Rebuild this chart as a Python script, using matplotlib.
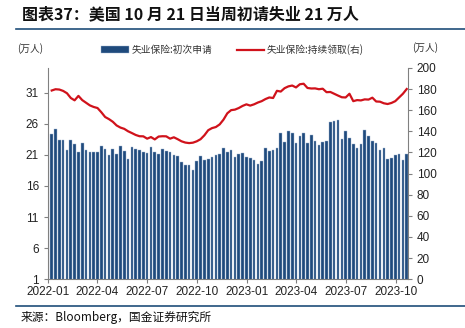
import numpy as np
import pandas as pd
import matplotlib
matplotlib.use("Agg")
import matplotlib.pyplot as plt
import matplotlib.dates as mdates

plt.rcParams['font.family'] = ['Noto Sans CJK SC', 'DejaVu Sans']

# week-ending dates, 2022-01-08 .. 2023-10-21
weeks = pd.date_range("2022-01-08", "2023-10-21", freq="7D")

# initial claims (10k persons), left axis
initial = [24.4, 25.2, 23.4, 23.4, 21.8, 23.4, 22.7, 21.5, 22.9, 21.8,
           21.5, 21.5, 21.5, 22.4, 21.9, 20.9, 21.9, 21.2, 22.4, 21.6,
           20.4, 22.2, 21.9, 21.8, 21.4, 21.3, 22.2, 21.5, 21.2, 21.9,
           21.6, 21.4, 20.9, 20.8, 19.9, 19.4, 19.4, 18.5, 20.0, 20.8,
           20.1, 20.3, 20.6, 20.9, 21.2, 22.1, 21.5, 21.8, 20.7, 21.2,
           21.3, 20.7, 20.5, 20.1, 19.5, 20.0, 22.1, 21.7, 21.8, 22.1,
           24.5, 23.0, 24.8, 24.6, 22.9, 24.1, 24.6, 22.9, 24.2, 23.2,
           22.6, 23.0, 23.3, 26.3, 26.5, 26.6, 23.6, 24.9, 23.7, 22.8,
           22.1, 22.7, 25.0, 24.0, 23.2, 22.9, 21.8, 22.1, 20.3, 20.5,
           21.0, 21.1, 20.1, 21.1]

# continuing claims (10k persons), right axis
continuing = [178.6, 179.8, 179.5, 178.2, 176.0, 171.5, 169.3, 173.5, 169.5, 167.0,
              164.5, 163.0, 162.0, 158.0, 153.5, 151.5, 149.0, 145.5, 143.5, 142.3,
              140.0, 138.3, 136.5, 135.3, 135.2, 133.0, 134.5, 132.3, 135.0, 135.3,
              135.2, 133.0, 134.3, 132.5, 130.5, 129.3, 128.8, 129.2, 130.5, 132.5,
              136.2, 141.0, 143.0, 144.0, 146.5, 151.0, 157.0, 160.0, 160.5, 162.0,
              164.0, 165.5, 164.3, 165.5, 167.2, 168.5, 170.5, 172.0, 171.5, 178.3,
              177.6, 180.8, 182.5, 183.3, 181.5, 184.5, 185.0, 181.0, 180.5, 180.6,
              179.8, 180.3, 177.0, 177.2, 175.5, 173.8, 172.2, 172.0, 175.5, 168.5,
              169.5, 169.2, 170.2, 170.0, 171.8, 168.2, 168.0, 166.5, 165.8, 166.8,
              168.5, 172.0, 175.5, 180.0]

title = "图表37：美国 10 月 21 日当周初请失业 21 万人"
source = "来源：Bloomberg，国金证券研究所"
bar_label = "失业保险:初次申请"
line_label = "失业保险:持续领取(右)"

tick_font = ['Liberation Sans', 'DejaVu Sans']

fig = plt.figure(figsize=(4.65, 3.28), dpi=100)
ax = fig.add_axes([0.103, 0.149, 0.774, 0.644])
ax2 = ax.twinx()

ax.bar(weeks, initial, width=4.8, bottom=0, color='#1f4a7c',
       edgecolor='#9fb6d3', linewidth=0.3, label=bar_label, zorder=2)
ax2.plot(weeks, continuing, color='#d0121b', lw=1.6, label=line_label, zorder=3)

ax.set_ylim(1, 35)
ax.set_yticks([1, 6, 11, 16, 21, 26, 31])
ax2.set_ylim(0, 200)
ax2.set_yticks(range(0, 201, 20))

ax.set_xlim(pd.Timestamp("2022-01-01"), pd.Timestamp("2023-10-23"))
ticks = pd.date_range("2022-01-01", "2023-10-01", freq="3MS")
ax.set_xticks(ticks)
ax.xaxis.set_major_formatter(mdates.DateFormatter("%Y-%m"))

for a in (ax, ax2):
    a.spines['top'].set_visible(False)
    for s in ('left', 'right', 'bottom'):
        a.spines[s].set_color('#808080')
        a.spines[s].set_linewidth(0.8)
    a.tick_params(labelsize=8.5, labelcolor='#222222', color='#808080',
                  length=3, width=0.8, direction='out')
    for lbl in a.get_xticklabels() + a.get_yticklabels():
        lbl.set_family(tick_font)
ax.spines['right'].set_visible(False)
ax2.spines['left'].set_visible(False)
ax2.spines['bottom'].set_visible(False)
ax.tick_params(axis='x', pad=2)

# title and rules
fig.text(0.047, 0.955, title, fontsize=11.5, fontweight='bold', style='italic',
         color='#111111', va='center', ha='left')
fig.add_artist(plt.Line2D([0.034, 1.0], [0.911, 0.911], color='#1f4e79', lw=1.2))
fig.add_artist(plt.Line2D([0.034, 1.0], [0.068, 0.068], color='#1f4e79', lw=1.2))
fig.text(0.045, 0.033, source, fontsize=8.5, color='#111111', va='center', ha='left')

# unit labels
fig.text(0.065, 0.852, "(万人)", fontsize=7, color='#333333', va='center', ha='center')
fig.text(0.915, 0.855, "(万人)", fontsize=7, color='#333333', va='center', ha='center')

# legend
h1, l1 = ax.get_legend_handles_labels()
h2, l2 = ax2.get_legend_handles_labels()
fig.legend(h1 + h2, l1 + l2, loc='center', bbox_to_anchor=(0.5, 0.848), ncol=2,
           frameon=False, fontsize=7, handlelength=2.8, handleheight=0.7,
           columnspacing=2.5, handletextpad=0.3, labelcolor='#333333')

fig.savefig("out.png", dpi=100)
